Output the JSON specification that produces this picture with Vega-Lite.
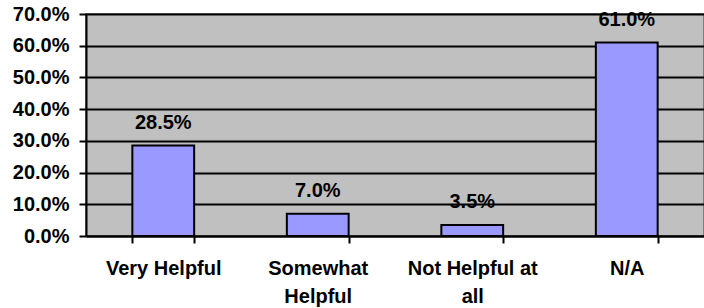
{
  "$schema": "https://vega.github.io/schema/vega-lite/v6.json",
  "autosize": "none",
  "width": 618,
  "height": 222,
  "padding": {"left": 86, "top": 14, "right": 0, "bottom": 72},
  "background": "#ffffff",
  "config": {
    "view": {"fill": "#C0C0C0", "stroke": "#808080", "strokeWidth": 2},
    "font": "Liberation Sans"
  },
  "data": {
    "values": [
      {"category": "Very Helpful", "value": 0.285},
      {"category": "Somewhat Helpful", "value": 0.07},
      {"category": "Not Helpful at all", "value": 0.035},
      {"category": "N/A", "value": 0.61}
    ]
  },
  "encoding": {
    "x": {
      "field": "category",
      "type": "nominal",
      "sort": null,
      "title": null,
      "scale": {"paddingInner": 0.6, "paddingOuter": 0.3},
      "axis": {
        "domainColor": "#000000",
        "domainWidth": 2,
        "tickColor": "#000000",
        "tickWidth": 2,
        "tickSize": 7,
        "tickBand": "extent",
        "labelAngle": 0,
        "labelFont": "Liberation Sans",
        "labelFontSize": 20,
        "labelFontWeight": "bold",
        "labelColor": "#000000",
        "labelPadding": 15,
        "labelLineHeight": 28,
        "labelExpr": "datum.label == 'Somewhat Helpful' ? ['Somewhat', 'Helpful'] : datum.label == 'Not Helpful at all' ? ['Not Helpful at', 'all'] : datum.label",
        "grid": false
      }
    },
    "y": {
      "field": "value",
      "type": "quantitative",
      "title": null,
      "scale": {"domain": [0, 0.7], "nice": false},
      "axis": {
        "values": [0, 0.1, 0.2, 0.3, 0.4, 0.5, 0.6, 0.7],
        "format": ".1%",
        "domainColor": "#000000",
        "domainWidth": 2,
        "tickColor": "#000000",
        "tickWidth": 2,
        "tickSize": 7,
        "labelFont": "Liberation Sans",
        "labelFontSize": 20,
        "labelFontWeight": "bold",
        "labelColor": "#000000",
        "labelPadding": 10,
        "grid": true,
        "gridColor": "#000000",
        "gridWidth": 2,
        "gridOpacity": 1
      }
    }
  },
  "layer": [
    {
      "mark": {"type": "bar", "fill": "#9999FF", "stroke": "#000000", "strokeWidth": 2}
    },
    {
      "mark": {
        "type": "text",
        "baseline": "alphabetic",
        "dy": -17,
        "font": "Liberation Sans",
        "fontSize": 20,
        "fontWeight": "bold",
        "color": "#000000"
      },
      "encoding": {
        "text": {"field": "value", "type": "quantitative", "format": ".1%"}
      }
    }
  ]
}
